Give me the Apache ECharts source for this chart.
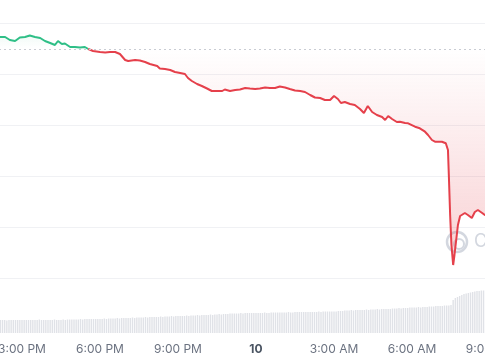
<!DOCTYPE html>
<html>
<head>
<meta charset="utf-8">
<script src="https://cdn.jsdelivr.net/npm/echarts@6/dist/echarts.min.js"></script>
<style>
html,body{margin:0;padding:0;width:485px;height:360px;overflow:hidden;background:#fff;}
#c{position:absolute;left:-56px;top:0;width:624px;height:360px;}
</style>
</head>
<body>
<div id="c"></div>
<script>
// x axis: minutes since 12:00 PM (day 9)
const tickLabels = {0:'12:00 PM',180:'3:00 PM',360:'6:00 PM',540:'9:00 PM',720:'10',900:'3:00 AM',1080:'6:00 AM',1260:'9:00 AM',1440:'12:00 PM'};

// price (arbitrary units, no axis labels in the reference)
const priceTimes = [83,106,129,141,152,164,175,187,198,210,222,233,245,256,263,272,279,291,302,314,325,337,344,360,372,383,395,406,418,425,441,452,464,475,492,498,510,522,533,545,556,563,572,584,595,607,618,630,642,648,660,672,683,695,706,718,729,741,752,764,775,787,798,810,822,833,845,856,868,879,891,900,909,916,925,937,948,960,969,978,988,999,1011,1018,1025,1034,1045,1052,1064,1071,1075,1087,1098,1110,1117,1126,1133,1149,1158,1163,1165,1168,1171,1175,1178,1182,1186,1191,1195,1202,1209,1218,1225,1232,1242,1248,1260];
const priceValues = [239,240,241,241,238,237,240.5,241,242.5,241,240,237,235,233,237,234,234.5,231,231,230.5,231,228,227,226,225.5,226,226,224,218,217,218,217.5,216,214,212,209.5,209,208,206,205,204,200,197,194,192,189.5,187,187,187,188.5,187,188,188.5,190,189.5,189,189.5,190.5,190,190,191.5,190.5,189,187.5,187,186,183,180.5,180,178,178,182,179,175,176,174,173,169,165,172,166,163,161,158,162,159,156,156.3,155,154.7,156.3,151.3,149.7,146.3,143,138,136.3,136.3,134.7,128,103,63,33,13,23,38,53,62,61,65,63,60,66,68,65,63,64];
const openPrice = 229;

// volume, one bar every 5 minutes from 12:00 PM
const volumeStart = 0, volumeStep = 5;
const volumeValues = [
13,13,12.5,13,13,13,12.5,13,13,13,13,13,
13,13,13,12.5,13,13,13,13,12.5,13,13,13,
13,13,13,13,13,12.5,13,13,13,13,13,13,
13,13,13,13,13,13,13,13,13.5,13,13,13,
13,13,13,13.5,13,13,13,13.5,13,13.5,13.5,13.5,
13.5,13.5,13.5,14,13.5,14,14,14,14,14,14,14,
14,14,14.5,14,14.5,14.5,14.5,14.5,15,14.5,15,15,
15,15,15,15.5,15,15.5,15.5,15.5,15.5,16,15.5,16,
16,16,16,16,16.5,16,16.5,16.5,16.5,17,16.5,17,
17,17,17,17,17.5,17,17.5,17.5,17.5,18,17.5,18,
18,18,18,18.5,18,18.5,18.5,19,18.5,19,19,19,
19.5,19.5,19.5,19.5,19.5,20,19.5,20,20,20,20,20,
20,20,20,20,20.5,20,20,20.5,20.5,20.5,20.5,20.5,
20.5,20.5,20.5,21,20.5,20.5,21,21,21,21,21,21,
21,21,21,21,21,21.5,21,21.5,21.5,21.5,21.5,21.5,
21.5,21.5,22,22,22,22.5,22.5,22.5,23,22.5,23,23,
23,23,23,23.5,23,23.5,23.5,23.5,24,23.5,24,24,
24,24,24,24.5,24.5,24.5,25,24.5,25,25,25,25.5,
25.5,25.5,25.5,26,25.5,26,26,26,26.5,26.5,26.5,27,
27,27,27,27.5,27.5,27.5,28,33,35,36,37,38,
39,39.5,40,40.5,41,41.5,42,42,42.5,42.5,43,43,
43,43.5,43.5,44
];

const GREEN = '#2fbf87', RED = '#e5404b';
const priceData = priceTimes.map((t, i) => [t, priceValues[i]]);
const volumeData = volumeValues.map((v, i) => [volumeStart + i * volumeStep, v]);

// split the price line where it first falls below the opening price
const k = priceValues.findIndex(v => v < openPrice);
const a = priceData[k - 1], b = priceData[k];
const f = (a[1] - openPrice) / (a[1] - b[1]);
const cross = [a[0] + f * (b[0] - a[0]), openPrice];
const greenData = priceData.slice(0, k).concat([cross]);
const redData = [cross].concat(priceData.slice(k));

const areaFill = new echarts.graphic.LinearGradient(0, 23, 0, 278, [
  {offset: 0, color: 'rgba(47,191,135,0.12)'},
  {offset: 0.1, color: 'rgba(47,191,135,0)'},
  {offset: 0.101, color: 'rgba(229,64,75,0)'},
  {offset: 1, color: 'rgba(229,64,75,0.26)'}
], true);

const chart = echarts.init(document.getElementById('c'), null, {renderer: 'canvas'});
chart.setOption({
  animation: false,
  grid: [
    {left: 0, right: 0, top: 23, bottom: 82, containLabel: false, outerBoundsMode: 'none'},
    {left: 0, right: 0, top: 283, bottom: 27, containLabel: false, outerBoundsMode: 'none'}
  ],
  xAxis: [
    {type: 'value', gridIndex: 0, min: 0, max: 1440, interval: 180, show: false},
    {type: 'value', gridIndex: 1, min: 0, max: 1440, interval: 180,
     axisLine: {show: false}, axisTick: {show: false}, splitLine: {show: false},
     axisLabel: {
       margin: 10, fontFamily: 'Inter', fontSize: 12, color: '#6b7280',
       showMinLabel: false, showMaxLabel: false, hideOverlap: false,
       formatter: v => v === 720 ? '{b|10}' : (tickLabels[v] || ''),
       rich: {b: {fontFamily: 'Inter', fontSize: 12, fontWeight: 'bold', color: '#4b5563'}}
     }}
  ],
  yAxis: [
    {type: 'value', gridIndex: 0, min: 0, max: 255, interval: 51,
     axisLabel: {show: false}, axisLine: {show: false}, axisTick: {show: false},
     splitLine: {lineStyle: {color: '#f0f1f4', width: 1}}},
    {type: 'value', gridIndex: 1, min: 0, max: 50, show: false, splitLine: {show: false}}
  ],
  graphic: [
    {type: 'circle', shape: {cx: 513, cy: 242, r: 10}, style: {fill: 'none', stroke: '#d3d7df', lineWidth: 2.5}, z: 0},
    {type: 'circle', shape: {cx: 515, cy: 244, r: 5}, style: {fill: 'none', stroke: '#d3d7df', lineWidth: 2}, z: 0},
    {type: 'text', x: 530, y: 242, style: {text: 'CoinGecko', fontFamily: 'Inter', fontSize: 18, fill: '#d3d7df', verticalAlign: 'middle'}, z: 0}
  ],
  series: [
    {
      type: 'bar', xAxisIndex: 1, yAxisIndex: 1, data: volumeData,
      barWidth: 1.4, itemStyle: {color: '#e0e2e7'}, silent: true
    },
    {
      type: 'line', xAxisIndex: 0, yAxisIndex: 0, data: greenData,
      symbol: 'none', lineStyle: {width: 2, color: GREEN}, itemStyle: {color: GREEN},
      areaStyle: {origin: openPrice, color: areaFill, opacity: 1}, z: 3
    },
    {
      type: 'line', xAxisIndex: 0, yAxisIndex: 0, data: redData,
      symbol: 'none', lineStyle: {width: 2, color: RED}, itemStyle: {color: RED},
      areaStyle: {origin: openPrice, color: areaFill, opacity: 1},
      markLine: {
        silent: true, symbol: 'none', label: {show: false},
        lineStyle: {color: '#c9ccd3', type: [2, 3], width: 1},
        data: [{yAxis: openPrice}]
      },
      z: 3
    }
  ]
});
</script>
</body>
</html>
